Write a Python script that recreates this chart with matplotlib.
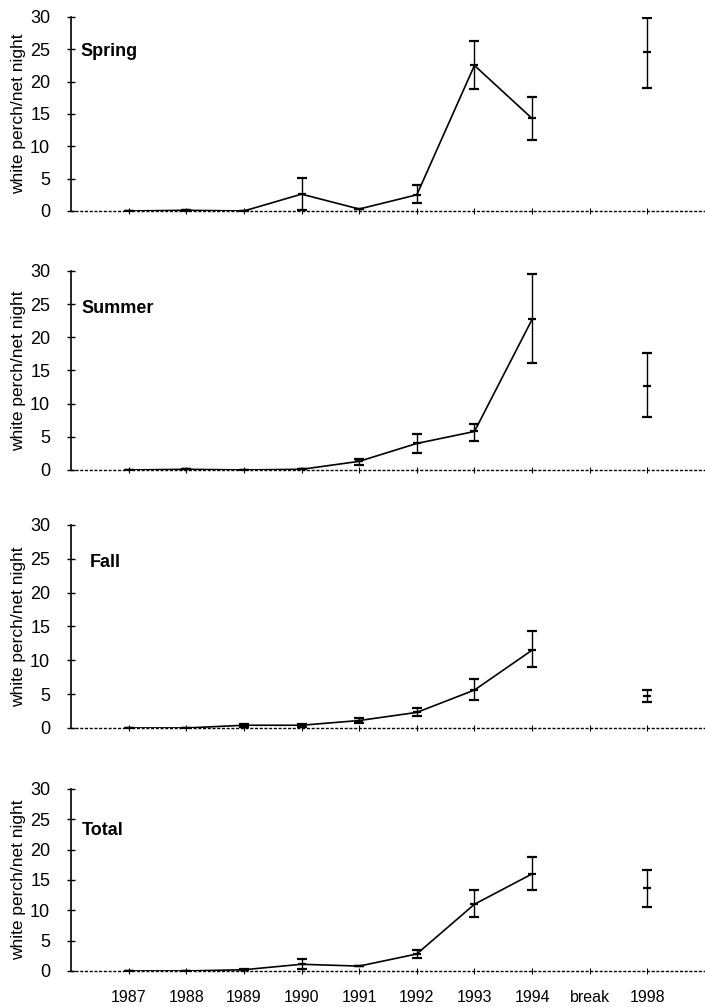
import numpy as np
import matplotlib
matplotlib.use("Agg")
from matplotlib import pyplot as plt

plt.rcParams['font.family'] = ['Liberation Sans', 'DejaVu Sans']

# categories on the x axis ("break" is an empty slot)
years = ['1987', '1988', '1989', '1990', '1991', '1992', '1993', '1994', 'break', '1998']

# connected series 1987-1994, then the lone 1998 point
seasons = ['Spring', 'Summer', 'Fall', 'Total']

spring = [0.0, 0.1, 0.0, 2.6, 0.3, 2.5, 22.5, 14.3]
spring_lo = [0.0, 0.0, 0.0, 0.2, 0.3, 1.2, 18.8, 11.0]
spring_hi = [0.0, 0.1, 0.0, 5.1, 0.3, 4.0, 26.2, 17.6]
spring_98 = (24.5, 19.0, 29.8)

summer = [0.0, 0.1, 0.0, 0.1, 1.3, 4.0, 5.8, 22.7]
summer_lo = [0.0, 0.1, 0.0, 0.1, 0.8, 2.6, 4.4, 16.1]
summer_hi = [0.0, 0.1, 0.0, 0.1, 1.6, 5.4, 7.0, 29.5]
summer_98 = (12.7, 8.0, 17.7)

fall = [0.0, 0.0, 0.4, 0.4, 1.1, 2.3, 5.6, 11.5]
fall_lo = [0.0, 0.0, 0.2, 0.2, 0.8, 1.7, 4.2, 9.0]
fall_hi = [0.0, 0.0, 0.6, 0.6, 1.5, 2.9, 7.2, 14.3]
fall_98 = (4.7, 3.9, 5.6)

total = [0.0, 0.0, 0.2, 1.1, 0.8, 2.8, 11.0, 16.0]
total_lo = [0.0, 0.0, 0.1, 0.4, 0.8, 2.2, 8.9, 13.4]
total_hi = [0.0, 0.0, 0.3, 1.9, 0.8, 3.5, 13.3, 18.8]
total_98 = (13.7, 10.6, 16.7)

series = [(spring, spring_lo, spring_hi, spring_98),
          (summer, summer_lo, summer_hi, summer_98),
          (fall, fall_lo, fall_hi, fall_98),
          (total, total_lo, total_hi, total_98)]

label_y = [24.7, 24.3, 24.4, 23.2]
label_x = [0.16, 0.19, 0.33, 0.19]

# axes boxes in figure fractions (left, bottom, width, height)
boxes = [(0.1007, 0.7905, 0.8993, 0.1927),
         (0.1007, 0.5333, 0.8993, 0.1976),
         (0.1007, 0.2771, 0.8993, 0.2016),
         (0.1007, 0.0358, 0.8993, 0.1807)]

fig = plt.figure(figsize=(7.05, 10.07), dpi=100)
xpos = np.arange(1, len(years) + 1)

for i, (vals, lo, hi, v98) in enumerate(series):
    ax = fig.add_axes(boxes[i])
    v = np.array(vals)
    err = [v - np.array(lo), np.array(hi) - v]
    ax.errorbar(xpos[:8], v, yerr=err, color='black', lw=1.2,
                marker='_', ms=6, mew=1.6, capsize=3.5, elinewidth=1.0, capthick=1.0)
    ax.errorbar([xpos[9]], [v98[0]], yerr=[[v98[0] - v98[1]], [v98[2] - v98[0]]],
                color='black', marker='_', ms=6, mew=1.6, capsize=3.5,
                elinewidth=1.0, capthick=1.0, ls='none')
    ax.set_xlim(0, 11)
    ax.set_ylim(0, 30)
    ax.set_yticks([0, 5, 10, 15, 20, 25, 30])
    ax.set_xticks(xpos)
    if i == 3:
        ax.set_xticklabels(years, fontsize=11.5)
    else:
        ax.set_xticklabels([])
    ax.tick_params(axis='y', direction='inout', length=6, width=1, labelsize=13, pad=12)
    ax.tick_params(axis='x', direction='inout', length=5, width=0.8, pad=11)
    for s in ['top', 'right']:
        ax.spines[s].set_visible(False)
    ax.spines['left'].set_linewidth(1.2)
    ax.spines['bottom'].set_linestyle((0, (1.2, 2.2)))
    ax.spines['bottom'].set_linewidth(1)
    ax.set_ylabel('white perch/net night', fontsize=12.5, labelpad=3)
    ax.text(label_x[i], label_y[i], seasons[i], fontsize=13, fontweight='bold',
            va='center', ha='left')
    ax.patch.set_alpha(0)

fig.savefig('out.png', dpi=100)
